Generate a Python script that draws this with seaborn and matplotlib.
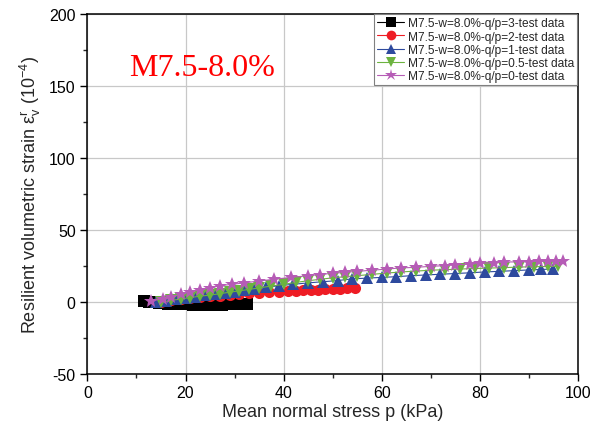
import numpy as np
import pandas as pd
import matplotlib
matplotlib.use("Agg")
import matplotlib.pyplot as plt
from matplotlib.ticker import MultipleLocator
import seaborn as sns

# series
labels = ["M7.5-w=8.0%-q/p=3-test data",
          "M7.5-w=8.0%-q/p=2-test data",
          "M7.5-w=8.0%-q/p=1-test data",
          "M7.5-w=8.0%-q/p=0.5-test data",
          "M7.5-w=8.0%-q/p=0-test data"]
colors = ["#000000", "#ee1c24", "#2e4a9e", "#6cb33f", "#b65cb6"]
markers = ["s", "o", "^", "v", "*"]

x_qp3 = [11.5, 12.5, 13.5, 14.5, 15.5, 16.5, 17.5, 18.5, 19.5, 20.5, 21.5,
         22.5, 23.5, 24.5, 25.5, 26.5, 27.5, 28.5, 29.5, 30.5, 31.5, 32.5]
y_qp3 = [0.2, 0.0, -0.4, -0.8, -1.1, -1.4, -1.6, -1.8, -1.9, -2.0, -2.1,
         -2.1, -2.2, -2.2, -2.2, -2.1, -2.1, -2.0, -2.0, -1.9, -1.8, -1.7]

x_qp2 = [15, 17, 19, 21, 23, 25, 27, 29, 31, 33, 35, 37, 39, 41, 42.5,
         44, 45.5, 47, 48.5, 50, 51.5, 53, 54.5]
y_qp2 = [0.0, 0.8, 1.6, 2.3, 3.0, 3.6, 4.2, 4.8, 5.3, 5.8, 6.2, 6.6, 7.0,
         7.3, 7.6, 7.9, 8.1, 8.3, 8.6, 8.8, 9.0, 9.2, 9.4]

x_qp1 = [14, 16, 18, 20, 22, 24, 26, 28, 30, 32, 34, 36.5, 39, 42, 45, 48,
         51, 54, 57, 60, 63, 66, 69, 72, 75, 78, 81, 84, 87, 90, 92.5, 95]
y_qp1 = [0.0, 0.7, 1.5, 2.5, 3.5, 4.5, 5.5, 6.3, 7.0, 7.8, 9.0, 10.0, 11.0,
         12.0, 13.0, 13.8, 14.6, 15.8, 16.3, 16.8, 17.3, 18.0, 18.5, 19.0,
         19.5, 20.0, 20.6, 21.0, 21.5, 22.0, 22.3, 22.7]

x_qp05 = [15, 17, 19, 21, 23, 25, 27, 29, 31, 33, 35, 37.5, 40, 42.5, 45,
          47.5, 50, 52.5, 55, 58, 61, 64, 67, 70, 73, 76, 79, 82, 85, 88,
          91, 94, 96]
y_qp05 = [-0.5, 0.8, 1.8, 2.8, 3.8, 4.5, 5.5, 6.5, 7.5, 8.5, 9.5, 10.8,
          12.0, 13.3, 14.5, 15.5, 16.5, 17.3, 18.0, 18.9, 19.8, 20.6, 21.2,
          21.8, 22.2, 22.6, 23.0, 23.3, 23.6, 24.0, 24.2, 24.4, 24.5]

x_qp0 = [13, 15.4, 17, 19, 21, 23, 25, 27, 29.5, 32, 35, 38, 41.5, 45,
         47.5, 50, 52.5, 55, 58, 61, 64, 67, 70, 73, 75, 78, 80, 83, 85,
         88, 90, 92, 94, 95.5, 97]
y_qp0 = [0.5, 2.0, 3.5, 5.0, 6.8, 8.3, 9.5, 11.0, 12.0, 13.0, 14.3, 15.5,
         16.8, 18.0, 18.8, 19.7, 20.3, 21.0, 21.8, 22.6, 23.4, 23.8, 24.5,
         25.0, 25.5, 26.0, 26.5, 27.0, 27.5, 27.6, 27.8, 27.9, 28.0, 28.0,
         28.0]

xs = [x_qp3, x_qp2, x_qp1, x_qp05, x_qp0]
ys = [y_qp3, y_qp2, y_qp1, y_qp05, y_qp0]

df = pd.concat([pd.DataFrame({"p": x, "eps": y, "series": lab})
                for x, y, lab in zip(xs, ys, labels)], ignore_index=True)

sns.set_style("ticks")
plt.rcParams["font.family"] = ["Liberation Sans", "DejaVu Sans"]
plt.rcParams["mathtext.fontset"] = "custom"
plt.rcParams["mathtext.rm"] = "Liberation Sans"
plt.rcParams["axes.unicode_minus"] = False

fig = plt.figure(figsize=(5.95, 4.35), dpi=100)
ax = fig.add_axes([0.147, 0.139, 0.824, 0.827])

sns.lineplot(data=df, x="p", y="eps", hue="series", style="series",
             hue_order=labels, style_order=labels,
             palette=dict(zip(labels, colors)),
             markers=dict(zip(labels, markers)), dashes=False,
             markersize=8, markeredgewidth=0, linewidth=0.8,
             sort=False, estimator=None, ax=ax, legend=False)

# stars look small at the same size, bump them up
for ln in ax.lines:
    if ln.get_marker() == "*":
        ln.set_markersize(10.5)

ax.set_xlim(0, 100)
ax.set_ylim(-50, 200)
ax.xaxis.set_major_locator(MultipleLocator(20))
ax.xaxis.set_minor_locator(MultipleLocator(10))
ax.yaxis.set_major_locator(MultipleLocator(50))
ax.yaxis.set_minor_locator(MultipleLocator(25))
ax.grid(True, which="major", color="#c8c8c8", linewidth=0.9)
ax.tick_params(which="major", direction="out", length=5, width=1,
               labelsize=11.5, colors="black")
ax.tick_params(which="minor", direction="out", length=3, width=1)
for s in ax.spines.values():
    s.set_visible(True)
    s.set_color("black")
    s.set_linewidth(1.1)

ax.set_xlabel("Mean normal stress p (kPa)", fontsize=13, labelpad=2)
ax.set_ylabel(r"Resilient volumetric strain ε$_{\mathregular{v}}^{\mathregular{r}}$ (10$^{\mathregular{-4}}$)",
              fontsize=13)

ax.text(8.5, 163, "M7.5-8.0%", color="#ff0000", fontsize=23,
        family="Liberation Serif", va="center", ha="left")

# legend handles: line through a marker, a bit smaller than the data marks
handles = [plt.Line2D([], [], color=c, marker=m, linewidth=0.8,
                      markersize=9 if m == "*" else 7, markeredgewidth=0)
           for c, m in zip(colors, markers)]
leg = ax.legend(handles, labels, loc="upper right", borderaxespad=0.05,
                fontsize=8.6, labelspacing=0.1, handlelength=2.3,
                handletextpad=0.3, borderpad=0.25, fancybox=False,
                framealpha=1, edgecolor="#808080")
leg.get_frame().set_linewidth(0.8)

fig.savefig("out.png", dpi=100)
